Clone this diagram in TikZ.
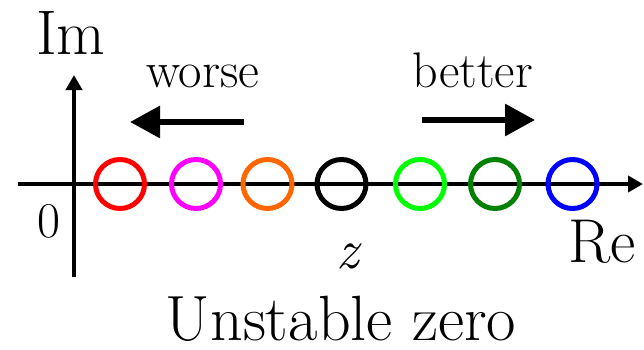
\documentclass[tikz,border=0pt]{standalone}
\usepackage{fontspec}
\usetikzlibrary{arrows.meta}
\definecolor{zorange}{HTML}{FF6600}
\definecolor{zmagenta}{HTML}{FF00FF}
\definecolor{zgreen}{HTML}{00FF00}
\definecolor{zdkgreen}{HTML}{008000}
\begin{document}
\begin{tikzpicture}[x=1pt,y=-1pt,
  axis/.style={line width=4pt,-{Triangle[length=15pt,width=16pt]}},
  hint/.style={line width=6pt,-{Triangle[length=30pt,width=31pt]}},
  zeromark/.style={circle,draw=#1,line width=5pt,minimum size=49pt,inner sep=0pt},
  lbl/.style={inner sep=0pt,anchor=base west},
]
\useasboundingbox (0,0) rectangle (644,349);

% axes
\coordinate (xs) at (18,184);
\coordinate (xe) at (643,184);
\coordinate (ys) at (74,277);
\coordinate (ye) at (74,75);
\draw[axis] (xs) -- (xe);
\draw[axis] (ys) -- (ye);

% zero positions along the real axis
\node[zeromark=red]      (c1) at (120,184) {};
\node[zeromark=zmagenta] (c2) at (196,184) {};
\node[zeromark=zorange]  (c3) at (267.5,184) {};
\node[zeromark=black]    (c4) at (341.5,184) {};
\node[zeromark=zgreen]   (c5) at (420,184) {};
\node[zeromark=zdkgreen] (c6) at (495,184) {};
\node[zeromark=blue]     (c7) at (572.5,184) {};

% direction hints
\coordinate (ws) at (244,122);
\coordinate (we) at (130,122);
\coordinate (bs) at (422,120);
\coordinate (be) at (535,120);
\draw[hint] (ws) -- (we);
\draw[hint] (bs) -- (be);

% labels
\node[lbl,font=\fontsize{63}{63}\selectfont] (im) at (36,54) {Im};
\node[lbl,font=\fontsize{62}{62}\selectfont] (re) at (568,262) {Re};
\node[lbl,font=\fontsize{50}{50}\selectfont] (o) at (37,237) {0};
\node[lbl,font=\fontsize{51}{51}\selectfont] (w) at (146,87) {worse};
\node[lbl,font=\fontsize{50}{50}\selectfont] (b) at (412,87) {better};
\node[lbl,font=\fontsize{56}{56}\selectfont\itshape] (z) at (336,268) {z};
\node[inner sep=0pt,anchor=base,font=\fontsize{64}{64}\selectfont] (t) at (341,340) {Unstable zero};
\end{tikzpicture}
\end{document}
